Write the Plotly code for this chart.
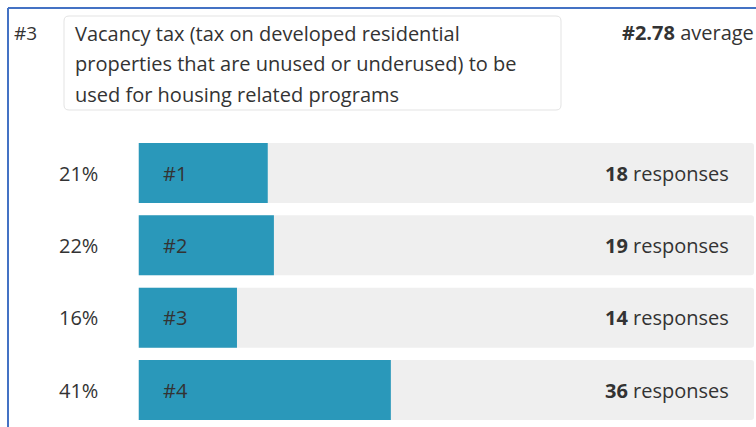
import plotly.graph_objects as go

# ---- data ----
rank_labels = ["#1", "#2", "#3", "#4"]
percents = [21, 22, 16, 41]
responses = [18, 19, 14, 36]
item_rank = "#3"
item_text_lines = [
    "Vacancy tax (tax on developed residential",
    "properties that are unused or underused) to be",
    "used for housing related programs",
]
average_rank = "2.78"

OFF = 0
W, H = 756, 427
FONT = "Open Sans"
TXT = "#333333"
FS = 20

# page pixel -> paper coords
def px(x):
    return (x - OFF) / W

def py(y):
    return 1 - (y - OFF) / H

rows = list(range(len(rank_labels)))

fig = go.Figure()
# background tracks
fig.add_trace(go.Bar(
    y=rows, x=[100] * len(rows), orientation="h",
    marker=dict(color="#EFEFEF", line=dict(width=0)),
    width=0.83, hoverinfo="skip", showlegend=False,
))
# value bars
fig.add_trace(go.Bar(
    y=rows, x=percents, orientation="h",
    marker=dict(color="#2A98BA", line=dict(width=0)),
    width=0.83, hoverinfo="skip", showlegend=False,
))

annotations = []
for i, (lab, p, r) in enumerate(zip(rank_labels, percents, responses)):
    annotations.append(dict(
        x=px(100), xref="paper", y=i, yref="y", xanchor="right", yanchor="middle",
        text=f"{p}%", showarrow=False, font=dict(family=FONT, size=FS, color=TXT),
    ))
    annotations.append(dict(
        x=3.66, xref="x", y=i, yref="y", xanchor="left", yanchor="middle",
        text=lab, showarrow=False, font=dict(family=FONT, size=FS, color=TXT),
    ))
    annotations.append(dict(
        x=px(731), xref="paper", y=i, yref="y", xanchor="right", yanchor="middle",
        text=f"<b>{r}</b> responses", showarrow=False,
        font=dict(family=FONT, size=FS, color=TXT),
    ))

# header
annotations.append(dict(
    x=px(12), y=py(33), xref="paper", yref="paper", xanchor="left", yanchor="middle",
    text=item_rank, showarrow=False, font=dict(family=FONT, size=FS - 1, color=TXT),
))
for k, line in enumerate(item_text_lines):
    annotations.append(dict(
        x=px(73), y=py(34 + 30 * k), xref="paper", yref="paper",
        xanchor="left", yanchor="middle", text=line, showarrow=False,
        font=dict(family=FONT, size=FS, color=TXT),
    ))
annotations.append(dict(
    x=px(620), y=py(33), xref="paper", yref="paper", xanchor="left", yanchor="middle",
    text=f"<b>#{average_rank}</b> average", showarrow=False,
    font=dict(family=FONT, size=FS, color=TXT),
))

# rounded text box
def rrect(x0, y0, x1, y1, r):
    X0, X1 = px(x0), px(x1)
    Y0, Y1 = py(y0), py(y1)
    rx, ry = r / W, r / H
    return (f"M {X0+rx},{Y0} L {X1-rx},{Y0} Q {X1},{Y0} {X1},{Y0-ry} "
            f"L {X1},{Y1+ry} Q {X1},{Y1} {X1-rx},{Y1} L {X0+rx},{Y1} "
            f"Q {X0},{Y1} {X0},{Y1+ry} L {X0},{Y0-ry} Q {X0},{Y0} {X0+rx},{Y0} Z")

shapes = [
    dict(type="path", xref="paper", yref="paper", path=rrect(64, 16, 561, 110, 5),
         line=dict(color="#E3E3E3", width=1), fillcolor="white", layer="below"),
    # blue card border (top and left)
    dict(type="line", xref="paper", yref="paper", x0=px(8), x1=1.01, y0=py(8), y1=py(8),
         line=dict(color="#4472C4", width=2)),
    dict(type="line", xref="paper", yref="paper", x0=px(8), x1=px(8), y0=py(8), y1=-0.01,
         line=dict(color="#4472C4", width=2)),
]

scale = 72.33
c_first, c_last = 173 - OFF, 390 - OFF
r_top = 0 - c_first / scale
r_bot = 3 + (H - c_last) / scale

fig.update_layout(
    width=W, height=H,
    margin=dict(l=0, r=0, t=0, b=0),
    paper_bgcolor="white", plot_bgcolor="white",
    barmode="overlay", barcornerradius=3,
    xaxis=dict(range=[0, 100], domain=[px(138.5), px(754)], visible=False, fixedrange=True),
    yaxis=dict(range=[r_bot, r_top], domain=[0, 1], visible=False, fixedrange=True),
    annotations=annotations, shapes=shapes,
    showlegend=False,
)

fig.write_html(
    "out.html",
    config={"displayModeBar": False, "staticPlot": True},
    post_script="document.body.style.margin='0';document.body.style.overflow='hidden';",
)
